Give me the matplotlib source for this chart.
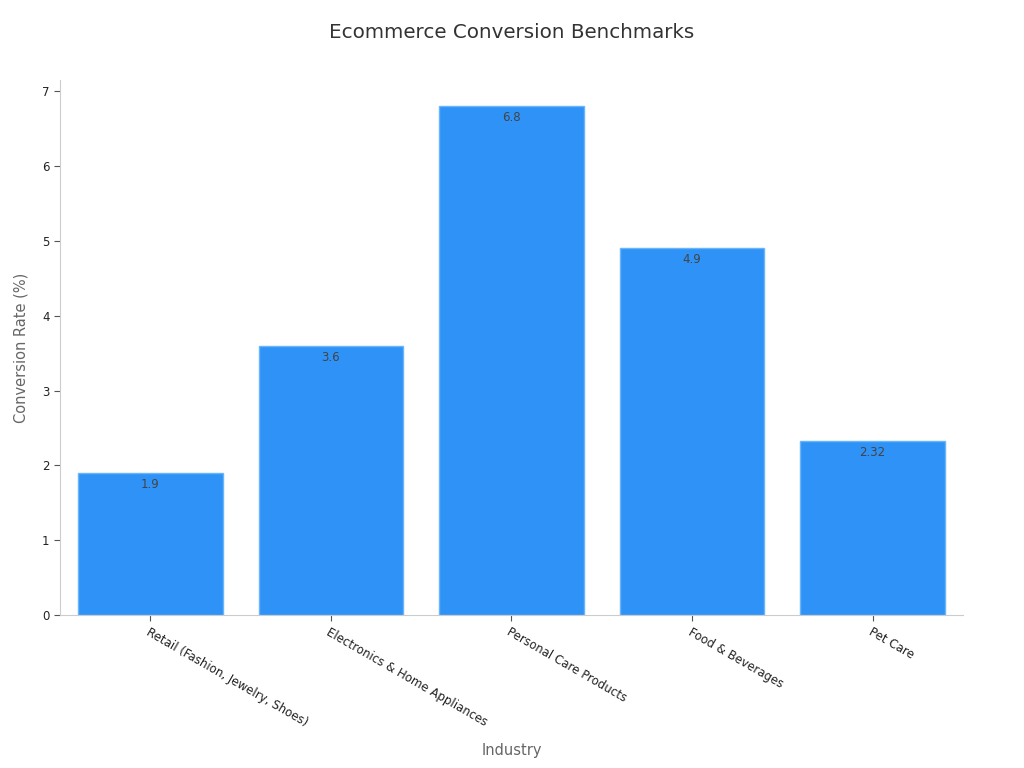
import matplotlib
matplotlib.use("Agg")
import matplotlib.pyplot as plt

categories = ["Retail (Fashion, Jewelry, Shoes)", "Electronics & Home Appliances",
              "Personal Care Products", "Food & Beverages", "Pet Care"]
values = [1.9, 3.6, 6.8, 4.9, 2.32]
labels = ["1.9", "3.6", "6.8", "4.9", "2.32"]

fig = plt.figure(figsize=(10.24, 7.68), dpi=100)
ax = fig.add_axes([0.0586, 0.1992, 0.8818, 0.6966])
x = list(range(len(categories)))
bars = ax.bar(x, values, width=0.8, color="#2f92f7", edgecolor="#6ab4fa", linewidth=1)
for xi, v, lab in zip(x, values, labels):
    ax.annotate(lab, (xi, v), xytext=(0, -3.5), textcoords="offset points",
                ha="center", va="top", fontsize=8.5, color="#444444")
ax.set_xlim(-0.5, 4.5)
ax.set_ylim(0, 7.15)
ax.set_xticks(x)
ax.set_xticklabels(categories, rotation=-30, ha="left", rotation_mode="anchor", fontsize=8.5, color="#222222")
ax.tick_params(axis="y", labelsize=8.5, colors="#222222", length=4, color="#555555")
ax.tick_params(axis="x", length=4, color="#555555")
for s in ["top", "right"]:
    ax.spines[s].set_visible(False)
for s in ["left", "bottom"]:
    ax.spines[s].set_color("#cccccc")
ax.set_xlabel("Industry", fontsize=10.5, color="#666666", labelpad=10)
ax.set_ylabel("Conversion Rate (%)", fontsize=10.5, color="#666666", labelpad=10)
fig.suptitle("Ecommerce Conversion Benchmarks", fontsize=14.3, color="#333333", y=0.97)
fig.savefig("out.png", dpi=100)
